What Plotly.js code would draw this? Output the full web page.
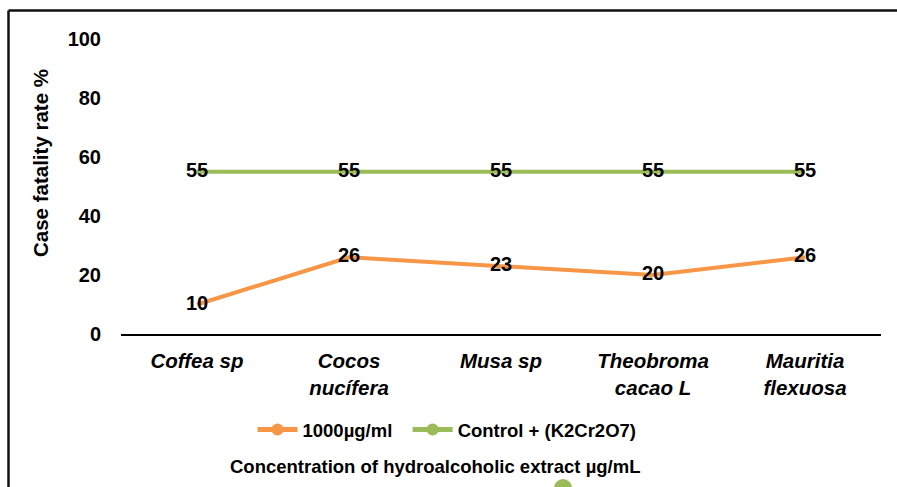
<!DOCTYPE html>
<html>
<head>
<meta charset="utf-8">
<script src="https://cdn.plot.ly/plotly-3.0.1.min.js"></script>
<style>
html,body{margin:0;padding:0;background:#fff;}
#chart{width:897px;height:487px;}
</style>
</head>
<body>
<div id="chart"></div>
<script>
const categories = ["Coffea sp", "Cocos<br>nucífera", "Musa sp", "Theobroma<br>cacao L", "Mauritia<br>flexuosa"];
const extract1000 = [10, 26, 23, 20, 26];
const control = [55, 55, 55, 55, 55];
const yTicks = [0, 20, 40, 60, 80, 100];
const seriesNames = ["1000µg/ml", "Control + (K2Cr2O7)"];

const catLabels = categories.map(c => "<b><i>" + c + "</i></b>");
const xIdx = categories.map((c, i) => i);

const FONT = "Liberation Sans, Arial, sans-serif";

function mk(vals, name, color, pad) {
  return {
    x: xIdx, y: vals, name: "<b>" + name + "</b>" + pad, type: "scatter", mode: "lines+markers+text",
    line: {color: color, width: 4},
    marker: {color: color, size: 0.1},
    text: vals.map(v => "<b>" + v + "</b>"),
    textposition: "middle center",
    textfont: {family: FONT, size: 20, color: "#000"},
    cliponaxis: false,
    hoverinfo: "skip"
  };
}

const traces = [
  mk(extract1000, seriesNames[0], "#F79646", "&nbsp;&nbsp;"),
  mk(control, seriesNames[1], "#9BBB59", "")
];

const L = 121, R = 881, T = 39, B = 334;
const px = x => (x - L) / (R - L);
const py = y => (B - y) / (B - T);

const layout = {
  width: 897, height: 487,
  margin: {l: L, r: 897 - R, t: T, b: 487 - B},
  paper_bgcolor: "#fff", plot_bgcolor: "#fff",
  showlegend: true,
  legend: {orientation: "h", x: px(447), xanchor: "center", y: py(430), yanchor: "middle",
           font: {family: FONT, size: 18.5, color: "#000"}, itemwidth: 40, tracegroupgap: 0,
           itemsizing: "constant"},
  xaxis: {
    range: [-0.5, 4.5], tickmode: "array", tickvals: xIdx, ticktext: catLabels,
    showgrid: false, zeroline: false, showline: true, linecolor: "#000", linewidth: 1.5,
    ticks: "", tickfont: {family: FONT, size: 20.5, color: "#000"}, ticklabelstandoff: 8,
    fixedrange: true
  },
  yaxis: {
    range: [0, 100], tickmode: "array", tickvals: yTicks, ticktext: yTicks.map(v => "<b>" + v + "</b>"),
    showgrid: false, zeroline: false, showline: false, ticks: "",
    tickfont: {family: FONT, size: 20, color: "#000"}, ticklabelstandoff: 19,
    fixedrange: true
  },
  annotations: [{
    text: "<b>Concentration of hydroalcoholic extract µg/mL</b>",
    xref: "paper", yref: "paper", x: px(435), y: py(466), xanchor: "center", yanchor: "middle",
    showarrow: false, font: {family: FONT, size: 18.5, color: "#000"}
  }, {
    text: "<b>Case fatality rate %</b>",
    xref: "paper", yref: "paper", x: px(40), y: py(163), xanchor: "center", yanchor: "middle",
    textangle: -90, showarrow: false, font: {family: FONT, size: 20.5, color: "#000"}
  }],
  shapes: [
    {type: "line", xref: "paper", yref: "paper", x0: px(8.5), x1: px(8.5), y0: py(10.5), y1: py(500),
     line: {color: "#111", width: 2.5}},
    {type: "line", xref: "paper", yref: "paper", x0: px(8.5), x1: px(900), y0: py(10.5), y1: py(10.5),
     line: {color: "#111", width: 2.5}},
    {type: "circle", xref: "paper", yref: "paper", x0: px(554), x1: px(572), y0: py(479), y1: py(497),
     fillcolor: "#9BBB59", line: {width: 0}}
  ]
};

Plotly.newPlot("chart", traces, layout, {displayModeBar: false, staticPlot: true});
</script>
</body>
</html>
